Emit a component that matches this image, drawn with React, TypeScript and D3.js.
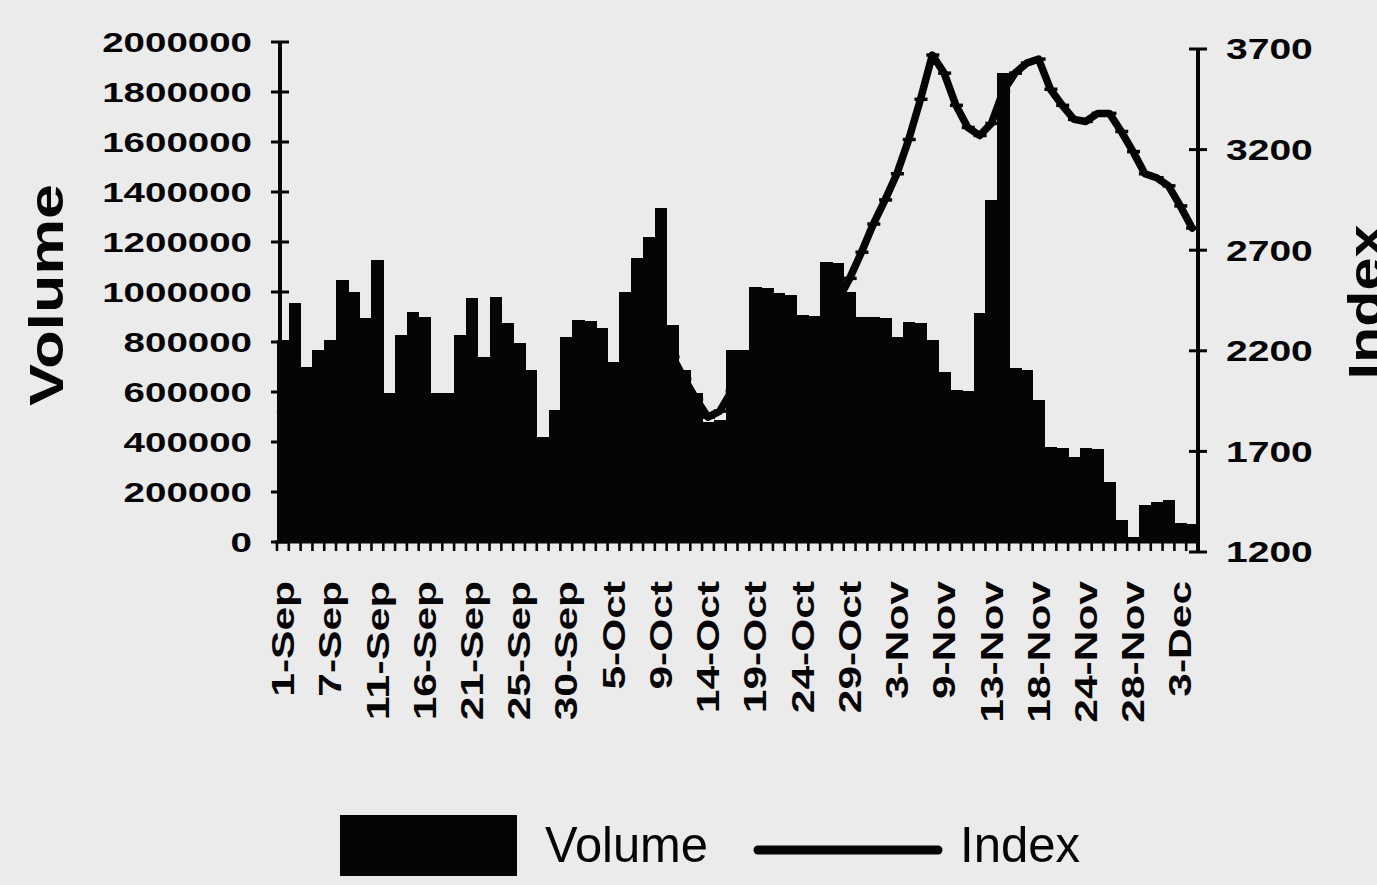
import React from 'react';
import * as d3 from 'd3';

// ---- data ----
const volume: number[] = [
  808000, 955000, 700000, 768000, 808000, 1048000, 1000000, 896000, 1130000, 596000,
  828000, 920000, 900000, 596000, 596000, 828000, 976000, 740000, 980000, 876000,
  796000, 688000, 420000, 528000, 820000, 888000, 885000, 856000, 721000, 1001000,
  1135000, 1221000, 1335000, 868000, 688000, 596000, 480000, 490000, 768000, 768000,
  1020000, 1015000, 996000, 990000, 908000, 905000, 1120000, 1115000, 1000000, 900000,
  900000, 895000, 820000, 880000, 875000, 808000, 680000, 608000, 605000, 916000,
  1368000, 1876000, 696000, 690000, 568000, 380000, 378000, 340000, 376000, 372000,
  240000, 88000, 20000, 148000, 160000, 168000, 76000, 72000,
];

const indexValues: number[] = [
  1900, 1920, 1950, 1930, 1960, 1990, 1970, 1950, 1940, 1900,
  1890, 1910, 1880, 1850, 1830, 1860, 1880, 1850, 1840, 1820,
  1790, 1760, 1720, 1750, 1820, 1880, 1920, 1960, 2000, 2080,
  2160, 2230, 2250, 2170, 2060, 1960, 1870, 1900, 2000, 2060,
  2100, 2130, 2150, 2170, 2150, 2200, 2300, 2450, 2560, 2690,
  2830, 2950, 3080, 3250, 3450, 3670, 3580, 3420, 3310, 3270,
  3330, 3490, 3580, 3630, 3650, 3500, 3420, 3350, 3340, 3380,
  3380, 3290, 3190, 3080, 3060, 3020, 2920, 2810,
];

const xTickLabels: string[] = [
  '1-Sep', '7-Sep', '11-Sep', '16-Sep', '21-Sep', '25-Sep', '30-Sep', '5-Oct', '9-Oct', '14-Oct',
  '19-Oct', '24-Oct', '29-Oct', '3-Nov', '9-Nov', '13-Nov', '18-Nov', '24-Nov', '28-Nov', '3-Dec',
];
const labelEvery = 4;

const volumeTicks: number[] = [0, 200000, 400000, 600000, 800000, 1000000, 1200000, 1400000, 1600000, 1800000, 2000000];
const indexTicks: number[] = [1200, 1700, 2200, 2700, 3200, 3700];

// ---- layout ----
const W = 1377;
const H = 885;
const PLOT_L = 277;
const PLOT_R = 1198;
const FONT = 'Liberation Sans, Arial, Helvetica, sans-serif';
const INK = '#050505';

const charW: Record<string, number> = {
  '-': 0.333, S: 0.667, e: 0.556, p: 0.611, O: 0.778, c: 0.556, t: 0.333,
  N: 0.722, o: 0.611, v: 0.556, D: 0.722,
};
const textEm = (s: string) => s.split('').reduce((a, ch) => a + (charW[ch] ?? 0.556), 0);

export default function App() {
  const n = volume.length;
  const x = d3.scaleBand<number>().domain(d3.range(n)).range([PLOT_L, PLOT_R]).paddingInner(0).paddingOuter(0);
  const bw = x.bandwidth();
  const yL = d3.scaleLinear().domain([0, 2000000]).range([542, 42]);
  const yR = d3.scaleLinear().domain([1200, 3700]).range([552, 49]);
  const cx = (i: number) => (x(i) as number) + bw / 2;

  const linePath = d3
    .line<number>()
    .x((_, i) => cx(i))
    .y((d) => yR(d))(indexValues) as string;

  const leftAxisX = 280;
  const rightAxisX = PLOT_R;
  const baseY = yL(0);

  return (
    <svg
      width={W}
      height={H}
      viewBox={`0 0 ${W} ${H}`}
      style={{ position: 'absolute', left: 0, top: 0, background: '#ebebeb', display: 'block' }}
    >
      <rect x={0} y={0} width={W} height={H} fill="#ebebeb" />

      {/* bars */}
      <g shapeRendering="crispEdges">
        {volume.map((v, i) => (
          <rect key={i} x={x(i)} y={yL(v)} width={bw + 0.7} height={baseY - yL(v)} fill={INK} />
        ))}
      </g>

      {/* index line */}
      <path d={linePath} fill="none" stroke={INK} strokeWidth={7.5} strokeLinejoin="round" strokeLinecap="round" />
      {indexValues.map((v, i) => (
        <line key={i} x1={cx(i) - 6} x2={cx(i) + 7} y1={yR(v)} y2={yR(v)} stroke={INK} strokeWidth={3.5} />
      ))}

      {/* x axis */}
      <line x1={PLOT_L - 2} x2={PLOT_R} y1={baseY} y2={baseY} stroke={INK} strokeWidth={3} />
      {d3.range(n + 1).map((i) => {
        const xx = i < n ? (x(i) as number) : PLOT_R;
        return <line key={i} x1={xx} x2={xx} y1={baseY} y2={baseY + 9} stroke={INK} strokeWidth={2.6} />;
      })}
      {xTickLabels.map((lab, k) => {
        const i = k * labelEvery;
        const len = textEm(lab) * 42.5;
        return (
          <text
            key={lab}
            transform={`translate(${cx(i)},581) rotate(-90)`}
            textAnchor="end"
            dy="0.36em"
            fontFamily={FONT}
            fontWeight="bold"
            fontSize={31}
            textLength={len}
            lengthAdjust="spacingAndGlyphs"
            fill={INK}
          >
            {lab}
          </text>
        );
      })}

      {/* left axis */}
      <line x1={leftAxisX} x2={leftAxisX} y1={yL(2000000)} y2={baseY} stroke={INK} strokeWidth={4} />
      {volumeTicks.map((t) => (
        <g key={t}>
          <line x1={leftAxisX - 9} x2={leftAxisX + 9} y1={yL(t)} y2={yL(t)} stroke={INK} strokeWidth={3} />
          <text
            x={252}
            y={yL(t)}
            dy="0.36em"
            textAnchor="end"
            fontFamily={FONT}
            fontWeight="bold"
            fontSize={28}
            textLength={String(t).length * 21.4}
            lengthAdjust="spacingAndGlyphs"
            fill={INK}
          >
            {t}
          </text>
        </g>
      ))}

      {/* right axis */}
      <line x1={rightAxisX} x2={rightAxisX} y1={yR(3700)} y2={yR(1200)} stroke={INK} strokeWidth={4} />
      {indexTicks.map((t) => (
        <g key={t}>
          <line x1={rightAxisX - 9} x2={rightAxisX + 9} y1={yR(t)} y2={yR(t)} stroke={INK} strokeWidth={3} />
          <text
            x={1226}
            y={yR(t)}
            dy="0.36em"
            textAnchor="start"
            fontFamily={FONT}
            fontWeight="bold"
            fontSize={29}
            textLength={String(t).length * 21.7}
            lengthAdjust="spacingAndGlyphs"
            fill={INK}
          >
            {t}
          </text>
        </g>
      ))}

      {/* axis titles */}
      <text
        transform="translate(63,295) rotate(-90)"
        textAnchor="middle"
        fontFamily={FONT}
        fontWeight="bold"
        fontSize={48}
        textLength={222}
        lengthAdjust="spacingAndGlyphs"
        fill={INK}
      >
        Volume
      </text>
      <text
        transform="translate(1382,302) rotate(-90)"
        textAnchor="middle"
        fontFamily={FONT}
        fontWeight="bold"
        fontSize={48}
        textLength={155}
        lengthAdjust="spacingAndGlyphs"
        fill={INK}
      >
        Index
      </text>

      {/* legend */}
      <rect x={340} y={815} width={177} height={61} fill={INK} />
      <text x={545} y={862} fontFamily={FONT} fontSize={50} textLength={163} lengthAdjust="spacingAndGlyphs" fill={INK}>
        Volume
      </text>
      <line x1={758} x2={938} y1={850} y2={850} stroke={INK} strokeWidth={9} strokeLinecap="round" />
      <text x={960} y={862} fontFamily={FONT} fontSize={50} textLength={120} lengthAdjust="spacingAndGlyphs" fill={INK}>
        Index
      </text>
    </svg>
  );
}
